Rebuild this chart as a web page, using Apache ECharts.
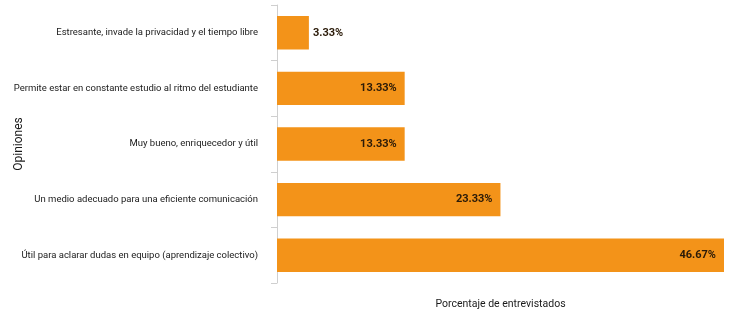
<!DOCTYPE html>
<html><head><meta charset="utf-8">
<script src="https://cdn.jsdelivr.net/npm/echarts@6/dist/echarts.min.js"></script>
<style>html,body{margin:0;padding:0;background:#fff}#c{width:736px;height:312px}</style>
</head><body><div id="c"></div>
<script>
const categories = [
  "Estresante, invade la privacidad y el tiempo libre",
  "Permite estar en constante estudio al ritmo del estudiante",
  "Muy bueno, enriquecedor y útil",
  "Un medio adecuado para una eficiente comunicación",
  "Útil para aclarar dudas en equipo (aprendizaje colectivo)"
];
const values = [3.33, 13.33, 13.33, 23.33, 46.67];
const xAxisName = "Porcentaje de entrevistados";
const yAxisName = "Opiniones";

const FONT = "Roboto, 'Liberation Sans', sans-serif";
const chart = echarts.init(document.getElementById('c'), null, {renderer:'canvas'});
chart.setOption({
  animation:false,
  textStyle:{fontFamily:FONT},
  grid:{left:277, top:5, right:12, bottom:29, containLabel:false, outerBoundsMode:'none'},
  xAxis:{type:'value', min:0, max:46.67, show:true,
    axisLine:{show:false}, axisTick:{show:false}, axisLabel:{show:false}, splitLine:{show:false},
    name:xAxisName, nameLocation:'middle', nameGap:16, nameMoveOverlap:false,
    nameTextStyle:{fontFamily:FONT, fontSize:10.5, color:'#1a1a1a'}},
  yAxis:{type:'category', data:categories, inverse:true,
    axisLine:{show:true, lineStyle:{color:'#cfcfcf', width:1}},
    axisTick:{show:true, length:6, lineStyle:{color:'#cfcfcf'}},
    axisLabel:{fontFamily:FONT, fontSize:9.5, color:'#1a1a1a', margin:19},
    name:yAxisName, nameLocation:'middle', nameGap:252, nameMoveOverlap:false,
    nameTextStyle:{fontFamily:FONT, fontSize:12, color:'#1a1a1a'}},
  series:[{type:'bar', data:values.map((v,i)=>({value:v,
      label:{position: v<5 ? 'right':'insideRight', distance: v<5?4:8}})),
    barWidth:'60%', itemStyle:{color:'#F39319'},
    label:{show:true, fontFamily:FONT, fontWeight:'bold', fontSize:11, color:'#2a1a08',
      formatter:p=>p.value.toFixed(2)+'%'}}]
});
</script></body></html>
